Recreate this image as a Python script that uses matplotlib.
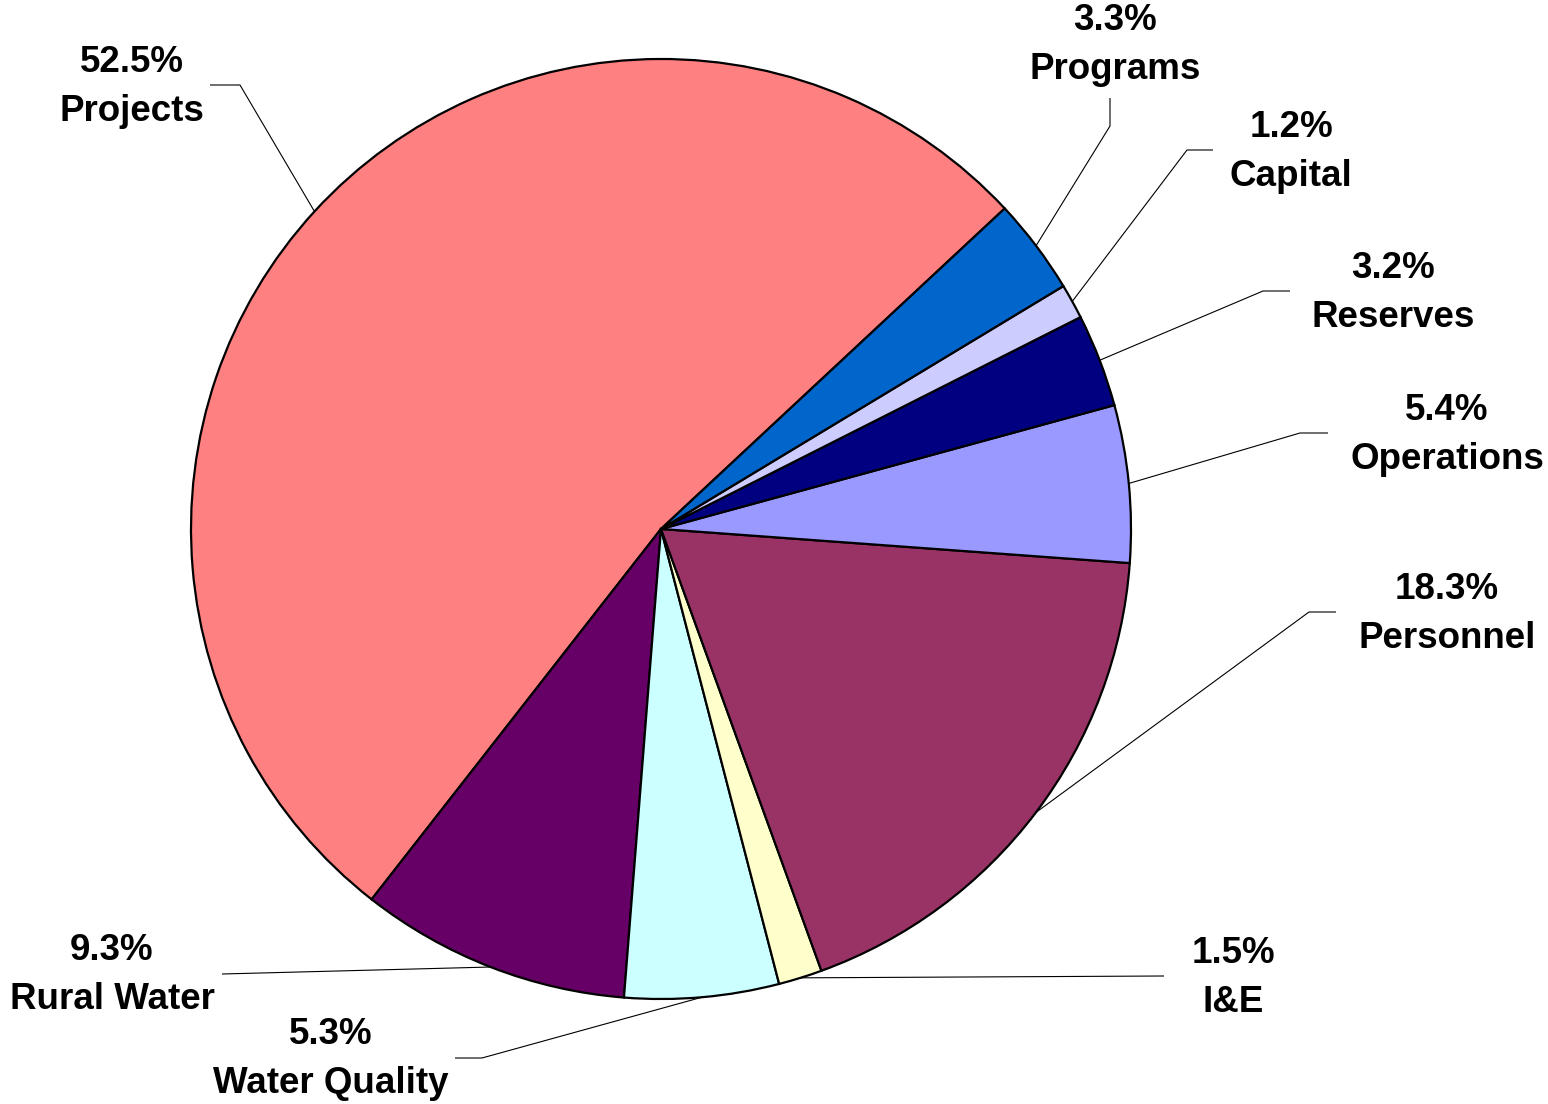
import numpy as np
import matplotlib
matplotlib.use("Agg")
import matplotlib.pyplot as plt

categories = ["Projects", "Rural Water", "Water Quality", "I&E", "Personnel",
              "Operations", "Reserves", "Capital", "Programs"]
values = [52.5, 9.3, 5.3, 1.5, 18.3, 5.4, 3.2, 1.2, 3.3]
colors = ["#FF8080", "#660066", "#CCFFFF", "#FFFFCC", "#993366",
          "#9999FF", "#000080", "#CCCCFF", "#0066CC"]

W, H = 1548, 1104
CX, CY, R = 661, 529, 470

def px(x, y):
    return ((x - CX) / R, (CY - y) / R)

# label centre (pixel) and leader elbow points (pixel) per category
label_pos = {
    "Projects": (132, 87),
    "Rural Water": (112, 975),
    "Water Quality": (331, 1059),
    "I&E": (1233, 978),
    "Personnel": (1447, 614),
    "Operations": (1447, 435),
    "Reserves": (1393, 293),
    "Capital": (1291, 152),
    "Programs": (1115, 45),
}
elbows = {
    "Projects": [(240, 85), (210, 85)],
    "Rural Water": [(222, 974)],
    "Water Quality": [(482, 1058), (455, 1058)],
    "I&E": [(1164, 976)],
    "Personnel": [(1309, 612), (1336, 612)],
    "Operations": [(1300, 433), (1328, 433)],
    "Reserves": [(1263, 291), (1290, 291)],
    "Capital": [(1187, 150), (1213, 150)],
    "Programs": [(1110, 126), (1110, 98)],
}

plt.rcParams['font.family'] = ['Liberation Sans', 'DejaVu Sans']
fig = plt.figure(figsize=(W / 100, H / 100), dpi=100)
ax = fig.add_axes([0, 0, 1, 1])

wedges, _ = ax.pie(values, colors=colors, startangle=43.0, counterclock=True,
                   radius=1.0, center=(0, 0),
                   wedgeprops=dict(edgecolor='black', linewidth=1.6))
ax.set_xlim((0 - CX) / R, (W - CX) / R)
ax.set_ylim((CY - H) / R, CY / R)
ax.set_aspect('equal')
ax.axis('off')

for w, name, v in zip(wedges, categories, values):
    mid = np.deg2rad((w.theta1 + w.theta2) / 2)
    xs = [np.cos(mid)]
    ys = [np.sin(mid)]
    for ex, ey in elbows[name]:
        dx, dy = px(ex, ey)
        xs.append(dx)
        ys.append(dy)
    ax.plot(xs, ys, color='black', lw=0.8, solid_capstyle='butt')
    lx, ly = px(*label_pos[name])
    ax.text(lx, ly, f"{v:.1f}%\n{name}", ha='center', va='center',
            fontsize=26.5, fontweight='bold', linespacing=1.5)

fig.savefig("out.png", dpi=100)
